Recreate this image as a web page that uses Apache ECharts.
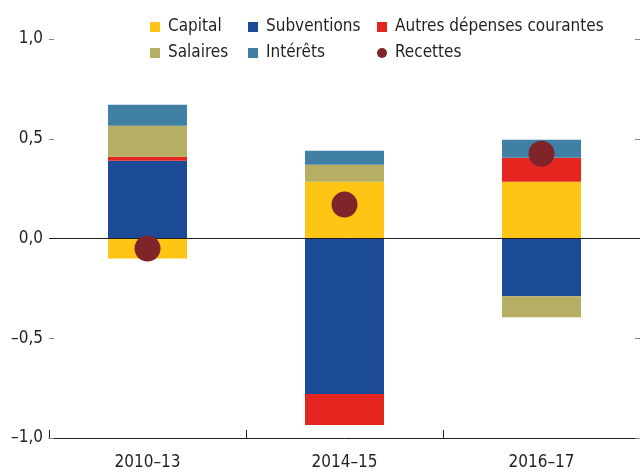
<!DOCTYPE html>
<html>
<head>
<meta charset="utf-8">
<script src="https://cdn.jsdelivr.net/npm/echarts@6/dist/echarts.min.js"></script>
<style>
  html, body { margin: 0; padding: 0; background: #fff; }
  #chart { width: 640px; height: 472px; }
</style>
</head>
<body>
<div id="chart"></div>
<script>
// données
var categories = ["2010–13", "2014–15", "2016–17"];
var capital = [-0.10, 0.285, 0.285];
var subventions = [0.39, -0.78, -0.29];
var autres = [0.02, -0.155, 0.12];
var salaires = [0.155, 0.085, -0.105];
var interets = [0.105, 0.07, 0.09];
var recettes = [-0.05, 0.17, 0.425];

var FONT = "'DejaVu Sans Condensed', 'Liberation Sans', sans-serif";
var TXT = "#231f20";

var chart = echarts.init(document.getElementById("chart"));

function legendCol(left, names) {
  return {
    orient: "vertical",
    left: left,
    top: 17,
    padding: 0,
    itemWidth: 10,
    itemHeight: 10,
    itemGap: 6,
    selectedMode: false,
    data: names,
    textStyle: {
      fontFamily: FONT,
      fontSize: 17,
      color: TXT,
      lineHeight: 20,
      padding: [0, 0, 0, 3],
    },
  };
}

function bar(name, data, color) {
  return {
    name: name,
    type: "bar",
    stack: "total",
    barWidth: 79,
    color: color,
    data: data,
  };
}

var option = {
  backgroundColor: "#fff",
  animation: false,
  legend: [
    legendCol(150, [{ name: "Capital", icon: "rect" }, { name: "Salaires", icon: "rect" }]),
    legendCol(248, [{ name: "Subventions", icon: "rect" }, { name: "Intérêts", icon: "rect" }]),
    legendCol(377, [{ name: "Autres dépenses courantes", icon: "rect" }, { name: "Recettes", icon: "circle" }]),
  ],
  grid: {
    left: 49,
    right: 0,
    top: 39,
    bottom: 34,
  },
  xAxis: {
    type: "category",
    data: categories,
    axisLine: { show: true, onZero: false, lineStyle: { color: "#231f20", width: 1 } },
    axisTick: {
      show: true,
      interval: 0,
      inside: true,
      length: 8,
      alignWithLabel: false,
      lineStyle: { color: "#231f20", width: 1 },
    },
    axisLabel: {
      fontFamily: FONT,
      fontSize: 17,
      color: TXT,
      margin: 16,
    },
  },
  yAxis: [
    {
      type: "value",
      min: -1,
      max: 1,
      interval: 0.5,
      splitLine: { show: false },
      axisLine: { show: false },
      axisTick: { show: true, inside: true, length: 5, lineStyle: { color: "#888" } },
      axisLabel: {
        fontFamily: FONT,
        fontSize: 17,
        color: TXT,
        margin: 6,
        formatter: function (v) {
          return v.toFixed(1).replace(".", ",").replace("-", "–");
        },
      },
    },
    {
      type: "value",
      position: "right",
      min: -1,
      max: 1,
      interval: 0.5,
      splitLine: { show: false },
      axisLine: { show: false },
      axisTick: { show: true, inside: true, length: 5, lineStyle: { color: "#888" } },
      axisLabel: { show: false },
    },
  ],
  series: [
    Object.assign(bar("Capital", capital, "#fec515"), {
      markLine: {
        silent: true,
        symbol: "none",
        label: { show: false },
        lineStyle: { color: "#231f20", width: 1, type: "solid" },
        data: [{ yAxis: 0 }],
        z: 5,
      },
    }),
    bar("Subventions", subventions, "#1b4b97"),
    bar("Autres dépenses courantes", autres, "#e52620"),
    bar("Salaires", salaires, "#b6ae62"),
    bar("Intérêts", interets, "#4080a5"),
    {
      name: "Recettes",
      type: "scatter",
      symbol: "circle",
      symbolSize: 26,
      color: "#80242a",
      itemStyle: { opacity: 1 },
      z: 10,
      data: recettes,
    },
  ],
};

chart.setOption(option);
</script>
</body>
</html>
